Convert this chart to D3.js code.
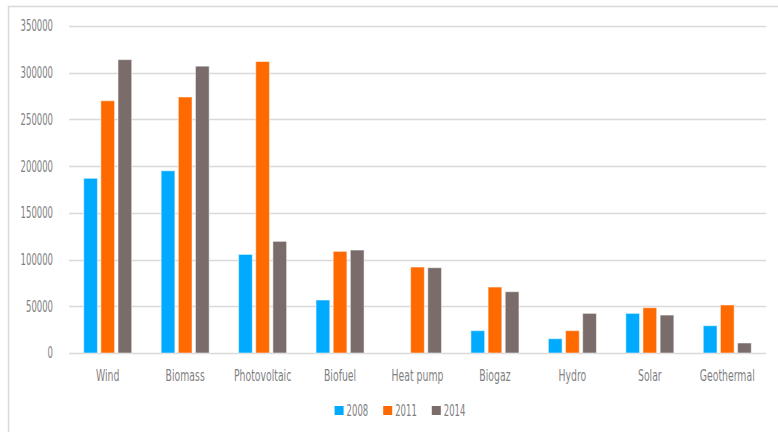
<!DOCTYPE html>
<html>
<head>
<meta charset="utf-8">
<script src="https://cdn.jsdelivr.net/npm/d3@7"></script>
<style>
  body { margin: 0; background: #fff; }
  text { font-family: "DejaVu Sans Condensed", "DejaVu Sans", sans-serif; font-stretch: condensed; fill: #7f7f7f; font-size: 15px; }
</style>
</head>
<body>
<div id="chart"></div>
<script>
(function(d3) {
    'use strict';

    var categories = ['Wind', 'Biomass', 'Photovoltaic', 'Biofuel', 'Heat pump', 'Biogaz', 'Hydro', 'Solar', 'Geothermal'];
    var years = ['2008', '2011', '2014'];
    var values2008 = [187000, 195000, 105500, 56700, 0, 23900, 15300, 42400, 29200];
    var values2011 = [270000, 274000, 312000, 108800, 92000, 70600, 23900, 48500, 51400];
    var values2014 = [314000, 307000, 119500, 110200, 91300, 65600, 42400, 40600, 10700];
    var yTicks = [0, 50000, 100000, 150000, 200000, 250000, 300000, 350000];

    var series = [values2008, values2011, values2014];
    var colors = ['#00aaff', '#ff6a00', '#7a6c6a'];

    var width = 778;
    var height = 432;
    var left = 69, right = 766, top = 26, bottom = 353;
    // the original typeface is a narrow one
    var squeeze = 0.63;
    var squeezeLabel = 0.69;

    var svg = d3.select('#chart')
      .append('svg')
      .attr('width', width)
      .attr('height', height);

    function place(x, yy, s) {
      return 'translate(' + x + ',' + yy + ') scale(' + (s || squeeze) + ',1)';
    }

    // outer frame (only top and left edges are visible)
    svg.append('path')
      .attr('d', 'M8.5,' + height + 'V6.5H' + width)
      .attr('fill', 'none')
      .attr('stroke', '#d9d9d9')
      .attr('stroke-width', 1.5);

    var y = d3.scaleLinear()
      .domain([0, 350000])
      .range([bottom, top]);

    var x0 = d3.scaleBand()
      .domain(categories)
      .range([left, right])
      .paddingInner(0.38)
      .paddingOuter(0.19);

    var x1 = d3.scaleBand()
      .domain(years)
      .range([0, x0.bandwidth()])
      .paddingInner(0.2)
      .paddingOuter(0);

    // gridlines
    svg.append('g')
      .selectAll('line')
      .data(yTicks)
      .enter()
      .append('line')
      .attr('x1', left)
      .attr('x2', right)
      .attr('y1', function(d) { return Math.round(y(d)) + 0.5; })
      .attr('y2', function(d) { return Math.round(y(d)) + 0.5; })
      .attr('stroke', '#d9d9d9')
      .attr('stroke-width', 1.5);

    // y tick labels
    svg.append('g')
      .selectAll('text')
      .data(yTicks)
      .enter()
      .append('text')
      .attr('transform', function(d) { return place(53, y(d)); })
      .attr('dy', '0.36em')
      .attr('text-anchor', 'end')
      .text(function(d) { return d; });

    // bars
    var groups = svg.append('g')
      .selectAll('g')
      .data(categories)
      .enter()
      .append('g')
      .attr('transform', function(d) { return 'translate(' + x0(d) + ',0)'; });

    groups.selectAll('rect')
      .data(function(d, i) {
        return years.map(function(yr, j) { return { year: yr, value: series[j][i], color: colors[j] }; });
      })
      .enter()
      .filter(function(d) { return d.value > 0; })
      .append('rect')
      .attr('x', function(d) { return x1(d.year); })
      .attr('y', function(d) { return y(d.value); })
      .attr('width', x1.bandwidth())
      .attr('height', function(d) { return y(0) - y(d.value); })
      .attr('fill', function(d) { return d.color; })
      .attr('stroke', 'rgba(255,255,255,0.5)')
      .attr('stroke-width', 1);

    // category labels
    svg.append('g')
      .selectAll('text')
      .data(categories)
      .enter()
      .append('text')
      .attr('transform', function(d) { return place(x0(d) + x0.bandwidth() / 2, 381, squeezeLabel); })
      .attr('text-anchor', 'middle')
      .text(function(d) { return d; });

    // legend
    var legendRectSize = 9;
    var legend = svg.append('g');
    var xpos = 0;
    years.forEach(function(yr, i) {
      var item = legend.append('g').attr('transform', 'translate(' + xpos + ',0)');
      item.append('rect')
        .attr('x', 0)
        .attr('y', 406)
        .attr('width', legendRectSize)
        .attr('height', legendRectSize)
        .attr('fill', colors[i]);
      var t = item.append('text')
        .attr('transform', place(legendRectSize + 3, 415.5))
        .text(yr);
      xpos += legendRectSize + 3 + t.node().getComputedTextLength() * squeeze + 15;
    });
    var legendWidth = xpos - 15;
    legend.attr('transform', 'translate(' + (400 - legendWidth / 2) + ',0)');

})(window.d3);
</script>
</body>
</html>
